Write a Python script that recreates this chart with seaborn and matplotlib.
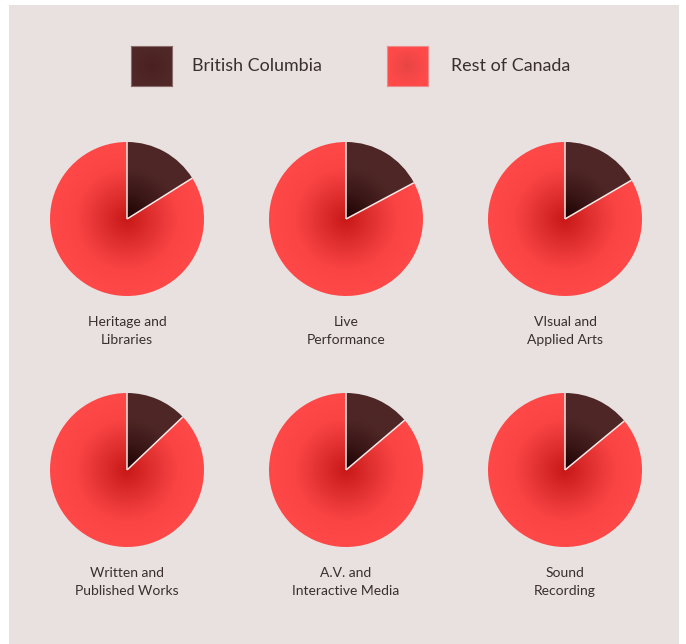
import numpy as np
import matplotlib
matplotlib.use('Agg')
import matplotlib.pyplot as plt
from matplotlib.patches import Rectangle
import seaborn as sns

# === DATA ===
categories = ['Heritage and\nLibraries', 'Live\nPerformance', 'VIsual and\nApplied Arts',
              'Written and\nPublished Works', 'A.V. and\nInteractive Media', 'Sound\nRecording']
bc_share = [16.1, 17.2, 16.6, 12.9, 13.8, 14.0]          # % British Columbia
rest_share = [100 - v for v in bc_share]                 # % Rest of Canada
series_names = ['British Columbia', 'Rest of Canada']

# === STYLE ===
W, H = 686, 644
BG = '#e8e1df'
TXT = '#3a2e2e'
bc_cmap = sns.blend_palette(['#1c0000', '#3a1616', '#4e2626', '#4e2626'], as_cmap=True)
rest_cmap = sns.blend_palette(['#c81818', '#e03030', '#fa4444', '#ff4848'], as_cmap=True)
bc_legend_cmap = sns.blend_palette(['#4a2020', '#512828'], as_cmap=True)
rest_legend_cmap = sns.blend_palette(['#e84444', '#ff4a4a'], as_cmap=True)

sns.set_theme(style='white')
plt.rcParams['font.family'] = ['Lato', 'DejaVu Sans']

fig = plt.figure(figsize=(W / 100, H / 100), dpi=100)
fig.patch.set_facecolor('white')
fig.patches.append(Rectangle((9 / W, 0), 670 / W, 639 / H, transform=fig.transFigure,
                             facecolor=BG, edgecolor='none', zorder=-5))

# radial gradient image
g = np.linspace(-1, 1, 400)
xx, yy = np.meshgrid(g, g)
rr = np.clip(np.sqrt(xx ** 2 + yy ** 2), 0, 1)

centers_x = [127, 346, 565]
centers_y = [219, 470]
R = 77
pad = 85

for i, name in enumerate(categories):
    cx = centers_x[i % 3]
    cy = centers_y[i // 3]
    ax = fig.add_axes([(cx - pad) / W, (H - cy - pad) / H, 2 * pad / W, 2 * pad / H])
    ax.axis('off')
    ax.patch.set_alpha(0)

    wedges, _ = ax.pie([bc_share[i], rest_share[i]], startangle=90, counterclock=False,
                       radius=1, wedgeprops=dict(edgecolor='none'))
    for wedge, cmap in zip(wedges, [bc_cmap, rest_cmap]):
        im = ax.imshow(rr, cmap=cmap, vmin=0, vmax=1, extent=[-1, 1, -1, 1],
                       origin='lower', interpolation='bilinear', zorder=1)
        im.set_clip_path(wedge)
        wedge.set_facecolor('none')
    ax.set_xlim(-pad / R, pad / R)
    ax.set_ylim(-pad / R, pad / R)
    ax.set_aspect('equal')

    # light separator lines between the slices
    theta = np.deg2rad(90 - 360 * bc_share[i] / 100)
    ax.plot([0, 0], [0, 1], color='#f2e8e6', lw=1.1, zorder=3, solid_capstyle='butt')
    ax.plot([0, np.cos(theta)], [0, np.sin(theta)], color='#f2e8e6', lw=1.1, zorder=3,
            solid_capstyle='butt')

    label_y = cy + 112
    fig.text(cx / W, (H - label_y) / H, name, ha='center', va='center', fontsize=10,
             color=TXT, linespacing=1.58)

# === LEGEND ===
legend_items = [(131, 192, bc_legend_cmap, '#8a6a6a'), (387, 451, rest_legend_cmap, '#f08a8a')]
for (sx, tx, cmap, edge), label in zip(legend_items, series_names):
    lax = fig.add_axes([sx / W, (H - 86) / H, 41 / W, 40 / H])
    lax.imshow(rr, cmap=cmap, vmin=0, vmax=1, extent=[0, 1, 0, 1], aspect='auto',
               interpolation='bilinear')
    lax.set_xticks([])
    lax.set_yticks([])
    for s in lax.spines.values():
        s.set_color(edge)
        s.set_linewidth(0.8)
    fig.text(tx / W, (H - 66) / H, label, ha='left', va='center', fontsize=12.9, color=TXT)

fig.savefig('out.png', dpi=100, facecolor=fig.get_facecolor())
